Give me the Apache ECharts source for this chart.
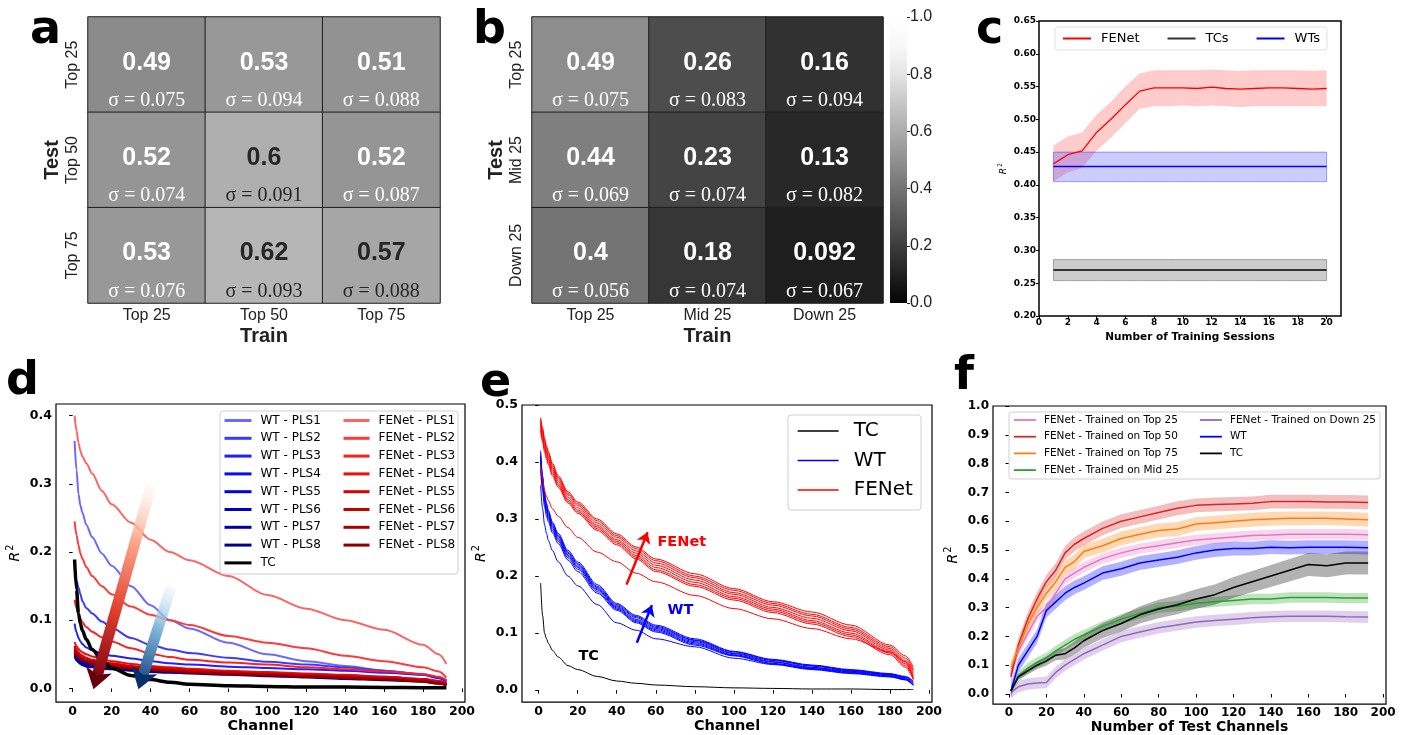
<!DOCTYPE html>
<html><head><meta charset="utf-8">
<script src="https://cdn.jsdelivr.net/npm/echarts@6/dist/echarts.min.js"></script>
<style>html,body{margin:0;padding:0;background:#fff}#c{width:1406px;height:735px}</style>
</head><body><div id="c"></div>
<script>
// ================= DATA =================
// panel a
const aTrain = ['Top 25', 'Top 50', 'Top 75'];
const aTest = ['Top 25', 'Top 50', 'Top 75'];
const aVals = [[0.49, 0.53, 0.51], [0.52, 0.6, 0.52], [0.53, 0.62, 0.57]];
const aSig = [['0.075', '0.094', '0.088'], ['0.074', '0.091', '0.087'], ['0.076', '0.093', '0.088']];
// panel b
const bTrain = ['Top 25', 'Mid 25', 'Down 25'];
const bTest = ['Top 25', 'Mid 25', 'Down 25'];
const bVals = [[0.49, 0.26, 0.16], [0.44, 0.23, 0.13], [0.4, 0.18, 0.092]];
const bSig = [['0.075', '0.083', '0.094'], ['0.069', '0.074', '0.082'], ['0.056', '0.074', '0.067']];
const cbarRange = [0, 1];
// panel c
const cSessions = [1, 2, 3, 4, 5, 6, 7, 8, 9, 10, 11, 12, 13, 14, 15, 16, 17, 18, 19, 20];
const cFEMean = [0.432, 0.446, 0.452, 0.480, 0.500, 0.522, 0.543, 0.548, 0.548, 0.548, 0.547, 0.549, 0.547, 0.546, 0.547, 0.548, 0.548, 0.547, 0.546, 0.547];
const cFELo = [0.405, 0.419, 0.426, 0.452, 0.472, 0.494, 0.516, 0.520, 0.520, 0.521, 0.520, 0.521, 0.520, 0.519, 0.520, 0.520, 0.520, 0.520, 0.520, 0.520];
const cFEHi = [0.460, 0.474, 0.480, 0.507, 0.527, 0.550, 0.570, 0.575, 0.575, 0.575, 0.575, 0.576, 0.575, 0.574, 0.575, 0.575, 0.575, 0.575, 0.574, 0.575];
const cWTMean = [0.428, 0.428, 0.428, 0.428, 0.428, 0.428, 0.428, 0.428, 0.428, 0.428, 0.428, 0.428, 0.428, 0.428, 0.428, 0.428, 0.428, 0.428, 0.428, 0.428];
const cWTLo = [0.405, 0.405, 0.405, 0.405, 0.405, 0.405, 0.405, 0.405, 0.405, 0.405, 0.405, 0.405, 0.405, 0.405, 0.405, 0.405, 0.405, 0.405, 0.405, 0.405];
const cWTHi = [0.450, 0.450, 0.450, 0.450, 0.450, 0.450, 0.450, 0.450, 0.450, 0.450, 0.450, 0.450, 0.450, 0.450, 0.450, 0.450, 0.450, 0.450, 0.450, 0.450];
const cTCMean = [0.270, 0.270, 0.270, 0.270, 0.270, 0.270, 0.270, 0.270, 0.270, 0.270, 0.270, 0.270, 0.270, 0.270, 0.270, 0.270, 0.270, 0.270, 0.270, 0.270];
const cTCLo = [0.254, 0.254, 0.254, 0.254, 0.254, 0.254, 0.254, 0.254, 0.254, 0.254, 0.254, 0.254, 0.254, 0.254, 0.254, 0.254, 0.254, 0.254, 0.254, 0.254];
const cTCHi = [0.286, 0.286, 0.286, 0.286, 0.286, 0.286, 0.286, 0.286, 0.286, 0.286, 0.286, 0.286, 0.286, 0.286, 0.286, 0.286, 0.286, 0.286, 0.286, 0.286];
// panel d
const dX = [1, 2, 3, 4, 5, 7, 10, 15, 20, 30, 40, 50, 60, 80, 100, 120, 140, 160, 180, 188, 192];
const dW1 = [0.363, 0.320, 0.285, 0.268, 0.258, 0.240, 0.222, 0.198, 0.180, 0.150, 0.122, 0.100, 0.088, 0.067, 0.050, 0.040, 0.033, 0.026, 0.020, 0.016, 0.012];
const dW2 = [0.165, 0.158, 0.148, 0.138, 0.128, 0.118, 0.110, 0.098, 0.089, 0.074, 0.064, 0.057, 0.052, 0.045, 0.039, 0.035, 0.031, 0.026, 0.021, 0.016, 0.011];
const dW3 = [0.095, 0.082, 0.074, 0.069, 0.065, 0.060, 0.056, 0.051, 0.048, 0.044, 0.040, 0.037, 0.035, 0.032, 0.030, 0.028, 0.026, 0.023, 0.020, 0.015, 0.010];
const dW4 = [0.062, 0.052, 0.047, 0.044, 0.042, 0.039, 0.037, 0.035, 0.033, 0.031, 0.029, 0.028, 0.027, 0.025, 0.023, 0.021, 0.019, 0.017, 0.014, 0.011, 0.008];
const dW5 = [0.057, 0.048, 0.044, 0.041, 0.039, 0.037, 0.035, 0.033, 0.031, 0.029, 0.027, 0.026, 0.025, 0.023, 0.021, 0.019, 0.017, 0.015, 0.013, 0.010, 0.007];
const dW6 = [0.053, 0.045, 0.041, 0.039, 0.037, 0.035, 0.033, 0.031, 0.030, 0.028, 0.026, 0.025, 0.024, 0.022, 0.020, 0.018, 0.016, 0.014, 0.012, 0.009, 0.006];
const dW7 = [0.050, 0.043, 0.040, 0.037, 0.036, 0.034, 0.032, 0.030, 0.029, 0.027, 0.025, 0.024, 0.023, 0.021, 0.019, 0.017, 0.015, 0.013, 0.011, 0.008, 0.005];
const dW8 = [0.047, 0.041, 0.038, 0.036, 0.034, 0.032, 0.031, 0.029, 0.028, 0.026, 0.024, 0.023, 0.022, 0.020, 0.018, 0.016, 0.014, 0.012, 0.010, 0.007, 0.005];
const dF1 = [0.400, 0.378, 0.360, 0.348, 0.340, 0.330, 0.315, 0.290, 0.270, 0.243, 0.218, 0.200, 0.188, 0.165, 0.137, 0.117, 0.100, 0.086, 0.064, 0.050, 0.036];
const dF2 = [0.245, 0.225, 0.210, 0.198, 0.190, 0.178, 0.165, 0.150, 0.138, 0.120, 0.108, 0.100, 0.093, 0.077, 0.067, 0.059, 0.048, 0.040, 0.031, 0.025, 0.016];
const dF3 = [0.130, 0.118, 0.108, 0.102, 0.097, 0.090, 0.083, 0.075, 0.069, 0.059, 0.051, 0.046, 0.042, 0.038, 0.035, 0.031, 0.028, 0.025, 0.021, 0.017, 0.012];
const dF4 = [0.068, 0.062, 0.058, 0.055, 0.053, 0.050, 0.047, 0.043, 0.040, 0.036, 0.033, 0.031, 0.029, 0.026, 0.024, 0.022, 0.020, 0.017, 0.014, 0.011, 0.008];
const dF5 = [0.062, 0.057, 0.053, 0.050, 0.048, 0.045, 0.042, 0.039, 0.037, 0.033, 0.031, 0.029, 0.027, 0.024, 0.022, 0.020, 0.018, 0.016, 0.013, 0.010, 0.007];
const dF6 = [0.058, 0.053, 0.050, 0.047, 0.045, 0.042, 0.040, 0.037, 0.035, 0.031, 0.029, 0.027, 0.025, 0.023, 0.021, 0.019, 0.017, 0.015, 0.012, 0.009, 0.006];
const dF7 = [0.055, 0.050, 0.047, 0.045, 0.043, 0.040, 0.038, 0.035, 0.033, 0.030, 0.028, 0.026, 0.024, 0.022, 0.020, 0.018, 0.016, 0.014, 0.011, 0.008, 0.005];
const dF8 = [0.052, 0.048, 0.045, 0.043, 0.041, 0.039, 0.036, 0.034, 0.032, 0.029, 0.027, 0.025, 0.023, 0.021, 0.019, 0.017, 0.015, 0.013, 0.010, 0.007, 0.005];
const dTC = [0.189, 0.145, 0.110, 0.095, 0.085, 0.072, 0.057, 0.042, 0.030, 0.019, 0.013, 0.009, 0.006, 0.004, 0.003, 0.002, 0.002, 0.0015, 0.001, 0.001, 0.001];
const dArrowRed = [[40.4, 0.298], [10.7, -0.001]];
const dArrowBlue = [[50.6, 0.149], [33.8, -0.001]];
// panel e
const eTC = [0.188, 0.131, 0.100, 0.090, 0.082, 0.070, 0.058, 0.043, 0.036, 0.024, 0.016, 0.012, 0.009, 0.006, 0.004, 0.003, 0.002, 0.002, 0.001, 0.001, 0.001];
const eW1 = [0.359, 0.318, 0.290, 0.275, 0.262, 0.245, 0.225, 0.200, 0.183, 0.150, 0.118, 0.105, 0.090, 0.076, 0.056, 0.045, 0.036, 0.029, 0.023, 0.018, 0.009];
const eW2 = [0.385, 0.350, 0.322, 0.305, 0.295, 0.276, 0.257, 0.228, 0.208, 0.170, 0.140, 0.118, 0.102, 0.079, 0.060, 0.046, 0.037, 0.030, 0.024, 0.018, 0.008];
const eW3 = [0.395, 0.357, 0.328, 0.311, 0.300, 0.280, 0.261, 0.232, 0.212, 0.173, 0.142, 0.120, 0.104, 0.081, 0.061, 0.047, 0.038, 0.031, 0.025, 0.019, 0.009];
const eW4 = [0.400, 0.361, 0.332, 0.315, 0.303, 0.284, 0.264, 0.235, 0.215, 0.176, 0.144, 0.122, 0.106, 0.083, 0.062, 0.049, 0.039, 0.032, 0.026, 0.020, 0.010];
const eW5 = [0.405, 0.365, 0.335, 0.318, 0.306, 0.287, 0.267, 0.237, 0.217, 0.178, 0.146, 0.124, 0.108, 0.085, 0.064, 0.050, 0.040, 0.033, 0.027, 0.021, 0.012];
const eW6 = [0.410, 0.369, 0.339, 0.322, 0.309, 0.290, 0.270, 0.240, 0.220, 0.180, 0.148, 0.127, 0.110, 0.087, 0.065, 0.052, 0.042, 0.034, 0.028, 0.022, 0.013];
const eW7 = [0.415, 0.372, 0.342, 0.325, 0.312, 0.292, 0.272, 0.242, 0.222, 0.182, 0.150, 0.129, 0.112, 0.088, 0.067, 0.053, 0.043, 0.035, 0.028, 0.023, 0.015];
const eW8 = [0.420, 0.376, 0.345, 0.328, 0.315, 0.295, 0.275, 0.245, 0.225, 0.185, 0.152, 0.131, 0.114, 0.090, 0.068, 0.054, 0.044, 0.036, 0.029, 0.024, 0.016];
const eF1 = [0.394, 0.370, 0.350, 0.340, 0.332, 0.318, 0.305, 0.285, 0.268, 0.242, 0.225, 0.205, 0.190, 0.166, 0.143, 0.125, 0.108, 0.090, 0.067, 0.050, 0.020];
const eF2 = [0.455, 0.435, 0.418, 0.405, 0.395, 0.376, 0.356, 0.328, 0.310, 0.280, 0.255, 0.230, 0.208, 0.182, 0.158, 0.136, 0.116, 0.094, 0.062, 0.040, 0.018];
const eF3 = [0.460, 0.440, 0.422, 0.409, 0.399, 0.380, 0.359, 0.331, 0.313, 0.283, 0.258, 0.233, 0.211, 0.185, 0.161, 0.139, 0.119, 0.097, 0.065, 0.043, 0.022];
const eF4 = [0.464, 0.444, 0.426, 0.413, 0.403, 0.384, 0.362, 0.334, 0.316, 0.286, 0.261, 0.236, 0.215, 0.189, 0.164, 0.142, 0.122, 0.100, 0.067, 0.046, 0.025];
const eF5 = [0.468, 0.448, 0.430, 0.417, 0.407, 0.388, 0.366, 0.338, 0.320, 0.289, 0.264, 0.240, 0.219, 0.193, 0.168, 0.145, 0.126, 0.104, 0.070, 0.049, 0.029];
const eF6 = [0.472, 0.452, 0.435, 0.421, 0.411, 0.391, 0.370, 0.342, 0.324, 0.293, 0.268, 0.244, 0.223, 0.197, 0.171, 0.149, 0.130, 0.107, 0.073, 0.052, 0.033];
const eF7 = [0.475, 0.456, 0.438, 0.425, 0.415, 0.395, 0.373, 0.345, 0.327, 0.297, 0.271, 0.248, 0.227, 0.200, 0.175, 0.152, 0.133, 0.110, 0.076, 0.056, 0.036];
const eF8 = [0.478, 0.460, 0.442, 0.428, 0.418, 0.398, 0.376, 0.348, 0.330, 0.300, 0.274, 0.251, 0.230, 0.204, 0.178, 0.155, 0.137, 0.114, 0.079, 0.060, 0.040];
const eNotes = [['FENet', 60.6, 0.26], ['WT', 65.7, 0.14], ['TC', 20.1, 0.06]];
const eArrowRed = [[45.0, 0.185], [55.8, 0.277]];
const eArrowBlue = [[50.3, 0.083], [58.0, 0.149]];
// panel f
const fX = [1, 5, 10, 15, 20, 25, 30, 35, 40, 50, 60, 70, 80, 90, 100, 110, 120, 130, 140, 150, 160, 170, 180, 192];
const fTop25 = [0.070, 0.150, 0.210, 0.270, 0.300, 0.350, 0.400, 0.420, 0.440, 0.470, 0.490, 0.505, 0.515, 0.525, 0.535, 0.540, 0.545, 0.550, 0.552, 0.555, 0.555, 0.555, 0.555, 0.553];
const fTop50 = [0.060, 0.170, 0.260, 0.330, 0.390, 0.430, 0.490, 0.520, 0.540, 0.575, 0.600, 0.615, 0.630, 0.645, 0.655, 0.658, 0.660, 0.662, 0.668, 0.668, 0.668, 0.667, 0.667, 0.665];
const fTop75 = [0.090, 0.160, 0.240, 0.300, 0.350, 0.390, 0.440, 0.460, 0.495, 0.515, 0.540, 0.555, 0.568, 0.573, 0.590, 0.595, 0.600, 0.605, 0.608, 0.610, 0.610, 0.610, 0.608, 0.605];
const fMid25 = [0.010, 0.060, 0.090, 0.110, 0.125, 0.150, 0.170, 0.190, 0.205, 0.235, 0.260, 0.280, 0.300, 0.305, 0.315, 0.320, 0.325, 0.330, 0.330, 0.335, 0.335, 0.335, 0.333, 0.333];
const fDown25 = [0.005, 0.025, 0.035, 0.038, 0.040, 0.075, 0.100, 0.120, 0.140, 0.170, 0.200, 0.215, 0.230, 0.240, 0.250, 0.255, 0.260, 0.265, 0.268, 0.270, 0.270, 0.270, 0.268, 0.267];
const fWT = [0.010, 0.100, 0.150, 0.200, 0.290, 0.320, 0.350, 0.370, 0.385, 0.420, 0.435, 0.455, 0.465, 0.475, 0.490, 0.500, 0.505, 0.505, 0.510, 0.508, 0.510, 0.510, 0.510, 0.508];
const fTC = [0.010, 0.060, 0.080, 0.100, 0.115, 0.135, 0.140, 0.160, 0.185, 0.220, 0.245, 0.275, 0.295, 0.310, 0.330, 0.345, 0.370, 0.390, 0.410, 0.430, 0.450, 0.445, 0.455, 0.455];
const fTCsd = [0.004, 0.010, 0.012, 0.014, 0.016, 0.018, 0.020, 0.022, 0.024, 0.026, 0.028, 0.030, 0.032, 0.033, 0.034, 0.035, 0.036, 0.037, 0.038, 0.039, 0.040, 0.040, 0.040, 0.040];
const fSd = { top25: 0.018, top50: 0.024, top75: 0.024, mid25: 0.018, down25: 0.02, wt: 0.024 };
// axis ticks
const chTicks = [0, 20, 40, 60, 80, 100, 120, 140, 160, 180, 200];
const dYTicks = [0, 0.1, 0.2, 0.3, 0.4];
const eYTicks = [0, 0.1, 0.2, 0.3, 0.4, 0.5];
const fYTicks = [0, 0.1, 0.2, 0.3, 0.4, 0.5, 0.6, 0.7, 0.8, 0.9, 1.0];

// ================= STYLE / BUILD =================
const DJ = 'DejaVu Sans';
const AR = 'Liberation Sans';
const TM = 'Liberation Serif';
const bGrays = ['#050505', '#202020', '#3c3c3c', '#585858', '#747474', '#909090', '#acacac', '#c8c8c8', '#e4e4e4', '#f8f8f8', '#ffffff'];

const chart = echarts.init(document.getElementById('c'), null, { renderer: 'canvas' });

function heatData(vals) {
  const out = [];
  vals.forEach((row, i) => row.forEach((v, j) => {
    const dark = v > 0.55;
    out.push({ value: [j, i, v], label: { color: dark ? '#262626' : '#ffffff' } });
  }));
  return out;
}
function heatSeries(idx, vals, sig) {
  return {
    type: 'heatmap', xAxisIndex: idx, yAxisIndex: idx, data: heatData(vals),
    itemStyle: { borderColor: '#1e1e1e', borderWidth: 1 },
    emphasis: { disabled: true },
    label: {
      show: true, offset: [0, 11],
      formatter: p => `{v|${p.value[2]}}\n{s|σ = ${sig[p.value[1]][p.value[0]]}}`,
      rich: {
        v: { fontSize: 25, fontWeight: 'bold', fontFamily: AR, lineHeight: 50 },
        s: { fontSize: 20, fontFamily: TM, lineHeight: 26 }
      }
    }
  };
}
function catX(gi, data) {
  return {
    type: 'category', gridIndex: gi, data, axisLine: { show: false }, axisTick: { show: false },
    axisLabel: { fontFamily: AR, fontSize: 16, color: '#222', margin: 5 },
    name: 'Train', nameLocation: 'middle', nameGap: 23,
    nameTextStyle: { fontFamily: AR, fontSize: 20, fontWeight: 'bold', color: '#222' }
  };
}
function catY(gi, data) {
  return {
    type: 'category', gridIndex: gi, data, inverse: true, axisLine: { show: false }, axisTick: { show: false },
    axisLabel: { fontFamily: AR, fontSize: 16, color: '#222', rotate: 90, margin: 7 },
    name: 'Test', nameLocation: 'middle', nameGap: 26, nameRotate: 90,
    nameTextStyle: { fontFamily: AR, fontSize: 20, fontWeight: 'bold', color: '#222' }
  };
}
const R2 = '{i|R}{s|2}';
function r2Style(fs) {
  return { color: '#000', fontFamily: DJ, rich: { i: { fontSize: fs, fontStyle: 'italic', fontFamily: DJ }, s: { fontSize: fs * 0.7, fontFamily: DJ, padding: [0, 0, fs * 0.7, 1] } } };
}
function plotX(gi, min, max, ticks, fs, name, nfs, gap) {
  return {
    type: 'value', gridIndex: gi, min, max, splitLine: { show: false }, axisLine: { show: false },
    axisTick: { show: true, customValues: ticks, length: 3.5, lineStyle: { color: '#000', width: 1 } },
    axisLabel: { customValues: ticks, fontFamily: DJ, fontWeight: 'bold', fontSize: fs, color: '#000', margin: 3, formatter: v => String(v) },
    name, nameLocation: 'middle', nameGap: gap,
    nameTextStyle: { fontFamily: DJ, fontWeight: 'bold', fontSize: nfs, color: '#000' }
  };
}
function plotY(gi, min, max, ticks, fs, nfs, gap, dec) {
  return {
    type: 'value', gridIndex: gi, min, max, splitLine: { show: false }, axisLine: { show: false },
    axisTick: { show: true, customValues: ticks, length: 3.5, lineStyle: { color: '#000', width: 1 } },
    axisLabel: { customValues: ticks, fontFamily: DJ, fontWeight: 'bold', fontSize: fs, color: '#000', margin: 4, formatter: v => v.toFixed(dec) },
    name: R2, nameLocation: 'middle', nameGap: gap, nameRotate: 90, nameTextStyle: r2Style(nfs)
  };
}
function line(gi, name, xs, ys, color, width, extra) {
  return Object.assign({
    type: 'line', name, xAxisIndex: gi, yAxisIndex: gi,
    data: xs.map((x, i) => [x, ys[i]]),
    symbol: 'none', showSymbol: false, smooth: 0.3, smoothMonotone: 'x',
    lineStyle: { color, width }, itemStyle: { color }, emphasis: { disabled: true }, z: 3
  }, extra || {});
}
function band(gi, xs, lo, hi, fill, stroke) {
  return {
    type: 'custom', xAxisIndex: gi, yAxisIndex: gi, silent: true, z: 1,
    data: xs.map((x, i) => [x, lo[i], hi[i]]),
    renderItem: (params, api) => {
      if (params.dataIndex !== 0) return null;
      const pts = [];
      for (let i = 0; i < xs.length; i++) pts.push(api.coord([xs[i], hi[i]]));
      for (let i = xs.length - 1; i >= 0; i--) pts.push(api.coord([xs[i], lo[i]]));
      return { type: 'polygon', shape: { points: pts, smooth: 0 }, style: { fill, stroke: stroke || 'none', lineWidth: stroke ? 1 : 0 } };
    }
  };
}
const plus = (a, s) => a.map((v, i) => v + (Array.isArray(s) ? s[i] : s));
const minus = (a, s) => a.map((v, i) => v - (Array.isArray(s) ? s[i] : s));
const lerp = (p, q, t) => [p[0] + (q[0] - p[0]) * t, p[1] + (q[1] - p[1]) * t];

function gradArrow(pts, stops, headColor, width, head) {
  const shaftEnd = lerp(pts[0], pts[1], 0.93);
  const headStart = lerp(pts[0], pts[1], 0.85);
  return [
    [{ coord: pts[0], symbol: 'none', lineStyle: { width, type: 'solid', cap: 'butt', color: new echarts.graphic.LinearGradient(1, 0, 0, 1, stops) } },
     { coord: shaftEnd, symbol: 'none' }],
    [{ coord: headStart, symbol: 'none', lineStyle: { width: 0.01, type: 'solid', color: headColor } },
     { coord: pts[1], symbol: 'arrow', symbolSize: head }]
  ];
}

// ---- series ----
const series = [];
series.push(heatSeries(0, aVals, aSig));
series.push(heatSeries(1, bVals, bSig));
series.push({
  type: 'bar', xAxisIndex: 2, yAxisIndex: 2, data: [cbarRange[1]], barWidth: '100%', silent: true,
  itemStyle: { color: new echarts.graphic.LinearGradient(0, 1, 0, 0, bGrays.map((c, i) => ({ offset: i / (bGrays.length - 1), color: c }))) }
});
// c
series.push(band(3, cSessions, cFELo, cFEHi, 'rgba(255,0,0,0.2)', null));
series.push(band(3, cSessions, cWTLo, cWTHi, 'rgba(0,0,255,0.2)', 'rgba(0,0,255,0.35)'));
series.push(band(3, cSessions, cTCLo, cTCHi, 'rgba(0,0,0,0.2)', 'rgba(0,0,0,0.3)'));
series.push(line(3, 'FENet', cSessions, cFEMean, '#ff0000', 1.3, { smooth: false }));
series.push(line(3, 'TCs', cSessions, cTCMean, '#333333', 2, { smooth: false }));
series.push(line(3, 'WTs', cSessions, cWTMean, '#0000ff', 1.5, { smooth: false }));
// d
const wtCols = ['#6a6aff', '#3b3bff', '#1f1fff', '#0a0af5', '#0000dc', '#0000c2', '#0000a8', '#00008e'];
const feCols = ['#ff6464', '#ff3a3a', '#ff1f1f', '#f50a0a', '#dc0000', '#c20000', '#a80000', '#8e0000'];
const dW = [dW1, dW2, dW3, dW4, dW5, dW6, dW7, dW8];
const dF = [dF1, dF2, dF3, dF4, dF5, dF6, dF7, dF8];
dW.forEach((ys, k) => series.push(line(4, 'WT - PLS' + (k + 1), dX, ys, wtCols[k], 2)));
dF.forEach((ys, k) => series.push(line(4, 'FENet - PLS' + (k + 1), dX, ys, feCols[k], 2)));
series.push(line(4, 'TC', dX, dTC, '#000000', 3.5, {
  markLine: {
    silent: true, animation: false, label: { show: false }, emphasis: { disabled: true }, z: 4,
    data: gradArrow(dArrowRed, [{ offset: 0, color: 'rgba(255,240,235,0.15)' }, { offset: 0.3, color: '#fcab8f' }, { offset: 0.65, color: '#e0402e' }, { offset: 1, color: '#7a0010' }], '#67000d', 11, 20)
      .concat(gradArrow(dArrowBlue, [{ offset: 0, color: 'rgba(235,245,255,0.15)' }, { offset: 0.45, color: '#7fb6d9' }, { offset: 1, color: '#0b3a78' }], '#08306b', 11, 20))
  }
}));
// e
const eW = [eW1, eW2, eW3, eW4, eW5, eW6, eW7, eW8];
const eF = [eF1, eF2, eF3, eF4, eF5, eF6, eF7, eF8];
series.push(line(5, 'e:TC', dX, eTC, '#000000', 1, {
  markPoint: {
    silent: true, animation: false,
    data: eNotes.map((n, k) => ({
      coord: [n[1], n[2]], symbol: 'circle', symbolSize: 1, itemStyle: { color: 'rgba(0,0,0,0)' },
      label: { show: true, position: 'right', distance: 0, formatter: n[0], color: ['#ff0000', '#0000ff', '#000000'][k], fontFamily: DJ, fontWeight: 'bold', fontSize: 14.5 }
    }))
  },
  markLine: {
    silent: true, animation: false, label: { show: false }, emphasis: { disabled: true }, symbol: ['none', 'arrow'], symbolSize: 11,
    data: [
      [{ coord: eArrowRed[0], lineStyle: { color: '#ff0000', width: 2.5, type: 'solid' } }, { coord: eArrowRed[1] }],
      [{ coord: eArrowBlue[0], lineStyle: { color: '#0000ff', width: 2.5, type: 'solid' } }, { coord: eArrowBlue[1] }]
    ]
  }
}));
eW.forEach(ys => series.push(line(5, 'e:WT', dX, ys, '#0000ff', 1)));
eF.forEach(ys => series.push(line(5, 'e:FENet', dX, ys, '#ff0000', 1)));
// f
const fDefs = [
  ['FENet - Trained on Top 25', fTop25, fSd.top25, '#e377c2'],
  ['FENet - Trained on Top 50', fTop50, fSd.top50, '#d62728'],
  ['FENet - Trained on Top 75', fTop75, fSd.top75, '#ff7f0e'],
  ['FENet - Trained on Mid 25', fMid25, fSd.mid25, '#2ca02c'],
  ['FENet - Trained on Down 25', fDown25, fSd.down25, '#9467bd'],
  ['f:WT', fWT, fSd.wt, '#0000ff'],
  ['f:TC', fTC, fTCsd, '#000000']
];
fDefs.forEach(d => {
  const c = echarts.color.modifyAlpha(d[3], 0.3);
  series.push(band(6, fX, minus(d[1], d[2]), plus(d[1], d[2]), c, null));
});
fDefs.forEach(d => series.push(line(6, d[0], fX, d[1], d[3], 1.5, { smooth: false })));

// ---- legends ----
const strip = n => n.replace(/^[ef]:/, '');
const noSym = { color: 'rgba(0,0,0,0)', borderWidth: 0, opacity: 0 };
const legends = [
  { // c
    orient: 'horizontal', left: 1055, top: 27, padding: [5, 7, 5, 7], itemWidth: 28, itemHeight: 14, itemGap: 27,
    data: ['FENet', 'TCs', 'WTs'], textStyle: { fontFamily: DJ, fontSize: 13, color: '#000', padding: [0, 0, 0, 5] },
    borderColor: '#e0e0e0', borderWidth: 1, borderRadius: 3, backgroundColor: 'rgba(255,255,255,0.8)',
    lineStyle: { width: 2 }, itemStyle: noSym, selectedMode: false
  },
  { // d col1
    orient: 'vertical', left: 223, top: 414.5, padding: 0, itemWidth: 27, itemHeight: 12, itemGap: 5.8,
    data: ['WT - PLS1', 'WT - PLS2', 'WT - PLS3', 'WT - PLS4', 'WT - PLS5', 'WT - PLS6', 'WT - PLS7', 'WT - PLS8', 'TC'],
    textStyle: { fontFamily: DJ, fontSize: 12, color: '#000', padding: [0, 0, 0, 4] }, lineStyle: { width: 3 }, itemStyle: noSym, selectedMode: false, z: 10
  },
  { // d col2
    orient: 'vertical', left: 342, top: 414.5, padding: 0, itemWidth: 26, itemHeight: 12, itemGap: 5.8,
    data: ['FENet - PLS1', 'FENet - PLS2', 'FENet - PLS3', 'FENet - PLS4', 'FENet - PLS5', 'FENet - PLS6', 'FENet - PLS7', 'FENet - PLS8'],
    textStyle: { fontFamily: DJ, fontSize: 12, color: '#000', padding: [0, 0, 0, 4] }, lineStyle: { width: 3 }, itemStyle: noSym, selectedMode: false, z: 10
  },
  { // e
    orient: 'vertical', left: 797, top: 421, padding: 0, itemWidth: 41, itemHeight: 20, itemGap: 9.5,
    data: ['e:TC', 'e:WT', 'e:FENet'], formatter: strip,
    textStyle: { fontFamily: DJ, fontSize: 20, color: '#000', padding: [0, 0, 0, 10] }, lineStyle: { width: 1.3 }, itemStyle: noSym, selectedMode: false, z: 10
  },
  { // f col1
    orient: 'vertical', left: 1013, top: 414.5, padding: 0, itemWidth: 22, itemHeight: 10.5, itemGap: 5.7,
    data: ['FENet - Trained on Top 25', 'FENet - Trained on Top 50', 'FENet - Trained on Top 75', 'FENet - Trained on Mid 25'],
    textStyle: { fontFamily: DJ, fontSize: 10.5, color: '#000', padding: [0, 0, 0, 3] }, lineStyle: { width: 1.8 }, itemStyle: noSym, selectedMode: false, z: 10
  },
  { // f col2
    orient: 'vertical', left: 1199, top: 414.5, padding: 0, itemWidth: 22, itemHeight: 10.5, itemGap: 5.7,
    data: ['FENet - Trained on Down 25', 'f:WT', 'f:TC'], formatter: strip,
    textStyle: { fontFamily: DJ, fontSize: 10.5, color: '#000', padding: [0, 0, 0, 3] }, lineStyle: { width: 1.8 }, itemStyle: noSym, selectedMode: false, z: 10
  }
];

const letter = (t, x, y) => ({ type: 'text', x, y, z: 20, style: { text: t, fontSize: 46, fontWeight: 'bold', fontFamily: DJ, fill: '#000', verticalAlign: 'middle', align: 'left' } });
const box = (x, y, w, h) => ({ type: 'rect', z: 5, shape: { x, y, width: w, height: h, r: 3 }, style: { fill: 'rgba(255,255,255,0.85)', stroke: '#d0d0d0', lineWidth: 1 } });

const frame = { show: true, borderColor: '#000', borderWidth: 1.2, backgroundColor: 'transparent' };
const option = {
  animation: false,
  grid: [
    { left: 88, top: 17, width: 352, height: 286 },
    { left: 532, top: 17, width: 351, height: 286 },
    { left: 890, top: 17, width: 17, height: 286 },
    Object.assign({ left: 1039, top: 21, width: 302, height: 295 }, frame, { borderWidth: 1.5 }),
    Object.assign({ left: 56, top: 404, width: 409, height: 300 }, frame),
    Object.assign({ left: 522, top: 405, width: 410, height: 299 }, frame),
    Object.assign({ left: 993, top: 406, width: 393, height: 299 }, frame)
  ],
  xAxis: [
    catX(0, aTrain),
    catX(1, bTrain),
    { type: 'category', gridIndex: 2, data: ['cb'], show: false },
    {
      type: 'value', gridIndex: 3, min: 0, max: 21, interval: 2, splitLine: { show: false }, axisLine: { show: false },
      axisTick: { show: true, length: 3, lineStyle: { color: '#000' } },
      axisLabel: { fontFamily: DJ, fontWeight: 'bold', fontSize: 9, color: '#000', margin: 2, showMaxLabel: false },
      name: 'Number of Training Sessions', nameLocation: 'middle', nameGap: 16,
      nameTextStyle: { fontFamily: DJ, fontWeight: 'bold', fontSize: 10.5, color: '#000' }
    },
    plotX(4, -8.55, 201.55, chTicks, 12.5, 'Channel', 14.5, 15),
    plotX(5, -8.55, 201.55, chTicks, 12.5, 'Channel', 14.5, 15),
    plotX(6, -8.55, 201.55, chTicks, 12, 'Number of Test Channels', 14, 15)
  ],
  yAxis: [
    catY(0, aTest),
    catY(1, bTest),
    {
      type: 'value', gridIndex: 2, min: cbarRange[0], max: cbarRange[1], interval: 0.2, position: 'right',
      splitLine: { show: false }, axisLine: { show: false },
      axisTick: { show: true, length: 3, lineStyle: { color: '#222' } },
      axisLabel: { fontFamily: AR, fontSize: 16, color: '#222', margin: 3, formatter: v => v.toFixed(1) }
    },
    {
      type: 'value', gridIndex: 3, min: 0.2, max: 0.65, interval: 0.05, splitLine: { show: false }, axisLine: { show: false },
      axisTick: { show: true, length: 3, lineStyle: { color: '#000' } },
      axisLabel: { fontFamily: DJ, fontWeight: 'bold', fontSize: 9, color: '#000', margin: 3, formatter: v => v.toFixed(2) },
      name: R2, nameLocation: 'middle', nameGap: 29, nameRotate: 90, nameTextStyle: r2Style(9)
    },
    plotY(4, -0.02, 0.417, dYTicks, 12.5, 14, 31, 1),
    plotY(5, -0.021, 0.5, eYTicks, 12.5, 14, 31, 1),
    plotY(6, -0.035, 1.0, fYTicks, 12, 14, 30, 1)
  ],
  visualMap: [
    { type: 'continuous', show: false, seriesIndex: 0, dimension: 2, min: 0.4, max: 0.7, inRange: { color: ['#6e6e6e', '#d0d0d0'] } },
    { type: 'continuous', show: false, seriesIndex: 1, dimension: 2, min: 0, max: 1, inRange: { color: bGrays } }
  ],
  legend: legends,
  graphic: [
    box(220, 411, 238, 163),
    box(788, 415, 133, 95),
    box(1009, 412, 371, 67),
    letter('a', 30, 31),
    letter('b', 473, 31),
    letter('c', 976, 31),
    letter('d', 6, 382),
    letter('e', 480, 384),
    letter('f', 954, 377)
  ],
  series
};
chart.setOption(option);
</script>
</body></html>
